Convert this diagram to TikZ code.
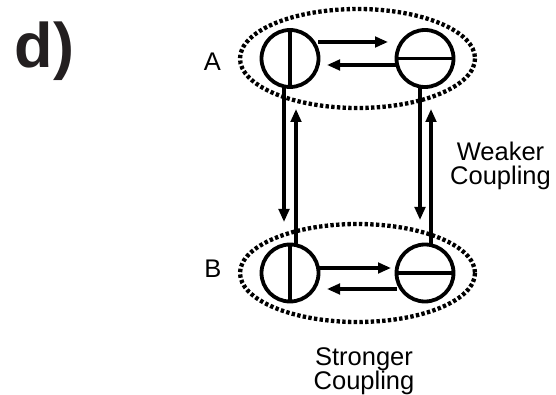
\documentclass[tikz,border=0pt]{standalone}
\usepackage{fontspec}
\setmainfont{Liberation Sans}
\usetikzlibrary{arrows.meta,calc}
\definecolor{inkdark}{HTML}{231F20}
\tikzset{
  qubit/.style={circle,draw,line width=3.8pt,minimum size=57pt,inner sep=0pt,outer sep=0pt},
  split/.style={line width=3.4pt},
  arr/.style={line width=3.1pt,-{Triangle[length=13pt,width=10.5pt]}},
  group/.style={line width=4.3pt,dash pattern=on 3.4pt off 2.3pt},
  lbl/.style={font=\fontsize{25.5}{24}\selectfont,inner sep=0pt,text=black},
  biglbl/.style={font=\fontsize{63}{66}\selectfont\bfseries,inner sep=0pt,text=inkdark}
}
\begin{document}
\begin{tikzpicture}[x=1pt,y=-1pt]
\useasboundingbox (0,0) rectangle (556,395);
% groups
\draw[group] (357.5,58.5) ellipse [x radius=117.5, y radius=49.5];
\draw[group] (357.5,273) ellipse [x radius=117.5, y radius=49];
% qubits
\node[qubit] (L1) at (290,58.5) {};
\node[qubit] (R1) at (425,58.5) {};
\node[qubit] (L2) at (290,273) {};
\node[qubit] (R2) at (425,273) {};
\draw[split] (L1.north) -- (L1.south);
\draw[split] (L2.north) -- (L2.south);
\draw[split] (R1.west) -- (R1.east);
\draw[split] (R2.west) -- (R2.east);
% horizontal arrows
\draw[arr] ($(L1)+(28,-16.5)$) -- ($(R1)+(-37,-16.5)$);
\draw[arr] ($(R1)+(-29,6.5)$) -- ($(L1)+(37,6.5)$);
\draw[arr] ($(L2)+(28,-5)$) -- ($(R2)+(-34,-5)$);
\draw[arr] ($(R2)+(-28,16)$) -- ($(L2)+(37,16)$);
% vertical arrows
\draw[arr] ($(L1)+(-6,27.9)$) -- ($(L2)+(-6,-51)$);
\draw[arr] ($(L2)+(6,-27.9)$) -- ($(L1)+(6,50.5)$);
\draw[arr] ($(R1)+(-5,28)$) -- ($(R2)+(-5,-53)$);
\draw[arr] ($(R2)+(6,-27.9)$) -- ($(R1)+(6,50.5)$);
% labels
\node[biglbl,anchor=base west] (d) at (14.5,68) {d)};
\node[lbl,anchor=base] (A) at (212.5,71) {A};
\node[lbl,anchor=base] (B) at (213,277) {B};
\node[lbl,anchor=base,align=center] (weak) at (500.5,185) {Weaker\\Coupling};
\node[lbl,anchor=base,align=center] (strong) at (364,389) {Stronger\\Coupling};
\end{tikzpicture}
\end{document}
